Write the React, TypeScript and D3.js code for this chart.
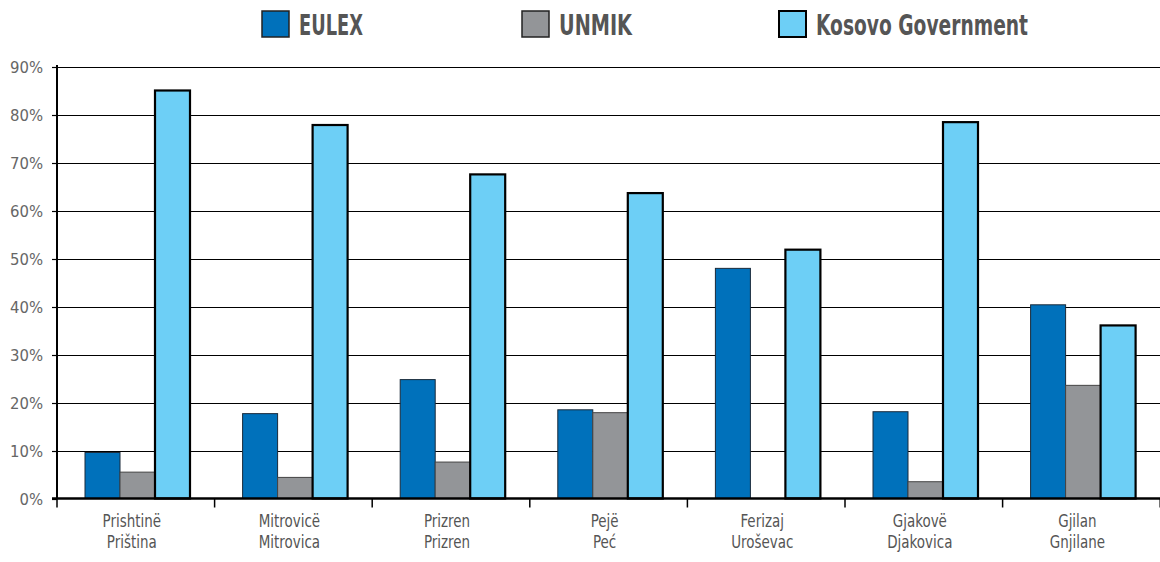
import React, { useEffect, useRef } from "react";
import * as d3 from "d3";

const regionsTop = ["Prishtinë", "Mitrovicë", "Prizren", "Pejë", "Ferizaj", "Gjakovë", "Gjilan"];
const regionsBottom = ["Priština", "Mitrovica", "Prizren", "Peć", "Uroševac", "Djakovica", "Gnjilane"];
const seriesNames = ["EULEX", "UNMIK", "Kosovo Government"];
const eulex = [9.6, 17.7, 24.8, 18.5, 48.0, 18.1, 40.4];
const unmik = [5.5, 4.4, 7.6, 17.9, 0, 3.5, 23.6];
const kosovoGov = [85.1, 77.9, 67.6, 63.7, 51.9, 78.5, 36.1];
const yTicks = [0, 10, 20, 30, 40, 50, 60, 70, 80, 90];

const fills = ["#0071bb", "#939598", "#6dcff6"];
const strokes = ["#1a2a3a", "#444", "#000"];
const strokeWidths = [1, 1, 2.2];

const W = 1160;
const H = 562;
const FONT = "'DejaVu Sans Condensed', 'DejaVu Sans', sans-serif";

export default function App() {
  const ref = useRef<SVGSVGElement>(null);

  useEffect(() => {
    const svg = d3.select(ref.current);
    svg.selectAll("*").remove();

    const left = 57, right = 1160, top = 67, bottom = 498.5;
    const x = d3.scaleBand<number>().domain(d3.range(regionsTop.length)).range([left, left + 157.6 * 7]);
    const y = d3.scaleLinear().domain([0, 90]).range([bottom, top]);
    const series = [eulex, unmik, kosovoGov];
    const barW = 35;
    const groupOffset = 28;

    // gridlines
    svg.append("g")
      .selectAll("line")
      .data(yTicks.slice(1))
      .enter()
      .append("line")
      .attr("x1", left)
      .attr("x2", right)
      .attr("y1", (d) => Math.round(y(d)) + 0.5)
      .attr("y2", (d) => Math.round(y(d)) + 0.5)
      .attr("stroke", "#000")
      .attr("stroke-width", 1.2);

    // y tick marks + labels
    const yg = svg.append("g");
    yg.selectAll("line")
      .data(yTicks)
      .enter()
      .append("line")
      .attr("x1", left - 5)
      .attr("x2", left)
      .attr("y1", (d) => Math.round(y(d)) + 0.5)
      .attr("y2", (d) => Math.round(y(d)) + 0.5)
      .attr("stroke", "#000")
      .attr("stroke-width", 1.2);
    yg.selectAll("text")
      .data(yTicks)
      .enter()
      .append("text")
      .attr("x", 43)
      .attr("y", (d) => y(d) + 6)
      .attr("text-anchor", "end")
      .attr("fill", "#666")
      .attr("font-size", 16.5)
      .attr("font-family", FONT)
      .text((d) => d + "%");

    // bars
    series.forEach((vals, s) => {
      svg.append("g")
        .selectAll("rect")
        .data(vals.map((v, i) => ({ v, i })).filter((d) => d.v > 0))
        .enter()
        .append("rect")
        .attr("x", (d) => (x(d.i) as number) + groupOffset + s * barW)
        .attr("y", (d) => y(d.v))
        .attr("width", barW)
        .attr("height", (d) => bottom - y(d.v))
        .attr("fill", fills[s])
        .attr("stroke", strokes[s])
        .attr("stroke-width", strokeWidths[s]);
    });

    // y axis line
    svg.append("line")
      .attr("x1", left).attr("x2", left)
      .attr("y1", top - 2).attr("y2", bottom)
      .attr("stroke", "#000").attr("stroke-width", 2);

    // x axis line + ticks
    svg.append("line")
      .attr("x1", left - 5).attr("x2", right)
      .attr("y1", bottom).attr("y2", bottom)
      .attr("stroke", "#000").attr("stroke-width", 2.5);
    svg.append("g")
      .selectAll("line")
      .data(d3.range(regionsTop.length + 1))
      .enter()
      .append("line")
      .attr("x1", (d) => left + d * x.bandwidth())
      .attr("x2", (d) => left + d * x.bandwidth())
      .attr("y1", bottom)
      .attr("y2", bottom + 9)
      .attr("stroke", "#000")
      .attr("stroke-width", 1.5);

    // category labels (narrowed to mimic a condensed face)
    const labelX = (i: number) => (x(i) as number) + x.bandwidth() / 2 - 4;
    const cl = svg.append("g")
      .attr("font-family", FONT)
      .attr("font-size", 17)
      .attr("fill", "#555")
      .attr("text-anchor", "middle");
    cl.selectAll(".top")
      .data(regionsTop)
      .enter()
      .append("text")
      .attr("transform", (d, i) => `translate(${labelX(i)},527) scale(0.88,1)`)
      .text((d) => d);
    cl.selectAll(".bot")
      .data(regionsBottom)
      .enter()
      .append("text")
      .attr("transform", (d, i) => `translate(${labelX(i)},548) scale(0.88,1)`)
      .text((d) => d);

    // legend
    const legendX = [262, 522, 779];
    const legendTextW = [64, 73, 212];
    const lg = svg.append("g");
    seriesNames.forEach((name, i) => {
      lg.append("rect")
        .attr("x", legendX[i])
        .attr("y", 11)
        .attr("width", 27)
        .attr("height", 26)
        .attr("fill", fills[i])
        .attr("stroke", i === 2 ? "#000" : "#222")
        .attr("stroke-width", i === 2 ? 2 : 1.5);
      lg.append("text")
        .attr("x", legendX[i] + 37)
        .attr("y", 35)
        .attr("font-family", FONT)
        .attr("font-weight", "bold")
        .attr("font-size", 29)
        .attr("fill", "#555")
        .attr("textLength", legendTextW[i])
        .attr("lengthAdjust", "spacingAndGlyphs")
        .text(name);
    });
  }, []);

  return (
    <svg
      ref={ref}
      width={W}
      height={H}
      style={{ position: "absolute", left: 0, top: 0, background: "#fff" }}
    />
  );
}
